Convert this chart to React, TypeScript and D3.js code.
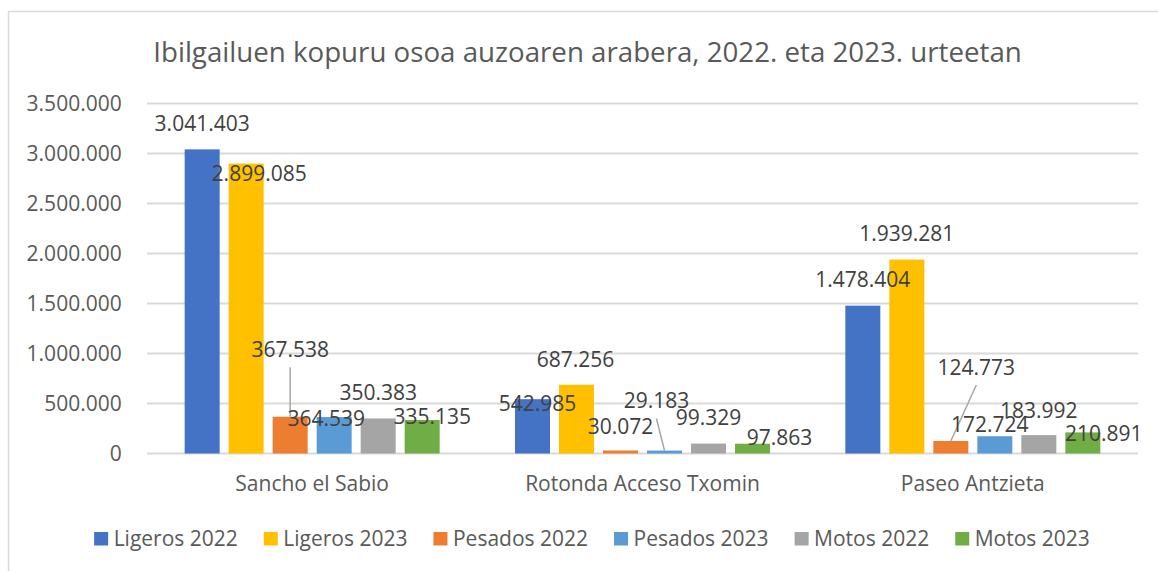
import React from 'react';
import * as d3 from 'd3';

const titleText = 'Ibilgailuen kopuru osoa auzoaren arabera, 2022. eta 2023. urteetan';
const categories = ['Sancho el Sabio', 'Rotonda Acceso Txomin', 'Paseo Antzieta'];
const seriesNames = ['Ligeros 2022', 'Ligeros 2023', 'Pesados 2022', 'Pesados 2023', 'Motos 2022', 'Motos 2023'];
const ligeros2022 = [3041403, 542985, 1478404];
const ligeros2023 = [2899085, 687256, 1939281];
const pesados2022 = [367538, 30072, 124773];
const pesados2023 = [364539, 29183, 172724];
const motos2022 = [350383, 99329, 183992];
const motos2023 = [335135, 97863, 210891];
const yTicks = [0, 500000, 1000000, 1500000, 2000000, 2500000, 3000000, 3500000];

const seriesValues = [ligeros2022, ligeros2023, pesados2022, pesados2023, motos2022, motos2023];
const seriesColors = ['#4472C4', '#FFC000', '#ED7D31', '#5B9BD5', '#A5A5A5', '#70AD47'];

// manual nudges of data labels (as moved in the original), px relative to default outside-end spot
const labelNudge: [number, number][][] = [
  [[0, 0], [5, 30], [0, 0]],
  [[13, 36], [-1, 1], [0, 0]],
  [[0, -41.5], [0, 2], [25.5, -48]],
  [[-8, 27], [-8, -24], [-5, 14]],
  [[0, 0], [0, 0], [0, 1]],
  [[10, 23], [27, 20], [21, 27]],
];
const leaderLines: boolean[][] = [
  [false, false, false],
  [false, false, false],
  [true, false, true],
  [false, true, false],
  [false, false, false],
  [false, false, false],
];

const W = 1158;
const H = 571;
const FONT = '"Open Sans", "Noto Sans", sans-serif';

const loc = d3.formatLocale({ decimal: ',', thousands: '.', grouping: [3], currency: ['', '€'] });
const fmt = loc.format(',d');

function measure(text: string, size: number): number {
  const c = document.createElement('canvas').getContext('2d');
  if (!c) return text.length * size * 0.55;
  c.font = `${size}px "Open Sans"`;
  return c.measureText(text).width;
}

export default function App() {
  const plotLeft = 147;
  const plotRight = 1138;
  const y = d3.scaleLinear().domain([0, 3500000]).range([453.5, 103.5]);
  const x0 = d3.scaleBand<string>().domain(categories).range([plotLeft, plotRight]).paddingInner(0).paddingOuter(0);
  const x1 = d3.scaleBand<string>().domain(seriesNames).range([0, x0.bandwidth()]).paddingInner(0.2045).paddingOuter(0.856);

  const labelSize = 21;
  const legendSize = 21;
  const sq = 14;
  const gapSqText = 5.5;
  const gapItem = 26;
  const widths = seriesNames.map((s) => measure(s, legendSize));
  const total = widths.reduce((a, w) => a + sq + gapSqText + w, 0) + gapItem * (seriesNames.length - 1);
  const legendCenter = 592;
  let lx = legendCenter - total / 2;
  const legendItems = seriesNames.map((s, i) => {
    const item = { name: s, x: lx, color: seriesColors[i] };
    lx += sq + gapSqText + widths[i] + gapItem;
    return item;
  });

  const defaultLift = 26;

  return (
    <svg width={W} height={H} style={{ position: 'absolute', left: 0, top: 0, background: '#fff' }} fontFamily={FONT}>
      <rect x={8.5} y={11.5} width={1170} height={580} fill="#fff" stroke="#d9d9d9" strokeWidth={1.5} />
      <text x={587.5} y={62} textAnchor="middle" fontSize={27.7} fill="#595959">{titleText}</text>

      {yTicks.map((t) => (
        <g key={t}>
          <line x1={plotLeft} x2={plotRight} y1={y(t)} y2={y(t)} stroke="#d9d9d9" strokeWidth={2} />
          <text x={121.7} y={y(t) + 7.5} textAnchor="end" fontSize={labelSize} fill="#595959">{t === 0 ? '0' : fmt(t)}</text>
        </g>
      ))}

      {categories.map((c, ci) => (
        <g key={c}>
          {seriesNames.map((s, si) => {
            const v = seriesValues[si][ci];
            const bx = (x0(c) ?? 0) + (x1(s) ?? 0);
            return <rect key={s} x={bx} y={y(v)} width={x1.bandwidth()} height={y(0) - y(v)} fill={seriesColors[si]} />;
          })}
          <text x={(x0(c) ?? 0) + x0.bandwidth() / 2} y={491} textAnchor="middle" fontSize={labelSize} fill="#595959">{c}</text>
        </g>
      ))}

      {categories.map((c, ci) =>
        seriesNames.map((s, si) => {
          const v = seriesValues[si][ci];
          const cx = (x0(c) ?? 0) + (x1(s) ?? 0) + x1.bandwidth() / 2;
          const top = y(v);
          const [dx, dy] = labelNudge[si][ci];
          const lxx = cx + dx;
          const lyy = top - defaultLift + dy;
          return (
            <g key={`${c}-${s}`}>
              {leaderLines[si][ci] && (
                <line x1={lxx} y1={lyy + 18} x2={cx} y2={top} stroke="#a6a6a6" strokeWidth={1.5} />
              )}
              <text x={lxx} y={lyy + 7.5} textAnchor="middle" fontSize={labelSize} fill="#404040">{fmt(v)}</text>
            </g>
          );
        })
      )}

      {legendItems.map((it) => (
        <g key={it.name}>
          <rect x={it.x} y={532} width={sq} height={13.5} fill={it.color} />
          <text x={it.x + sq + gapSqText} y={545.5} fontSize={legendSize} fill="#595959">{it.name}</text>
        </g>
      ))}
    </svg>
  );
}
